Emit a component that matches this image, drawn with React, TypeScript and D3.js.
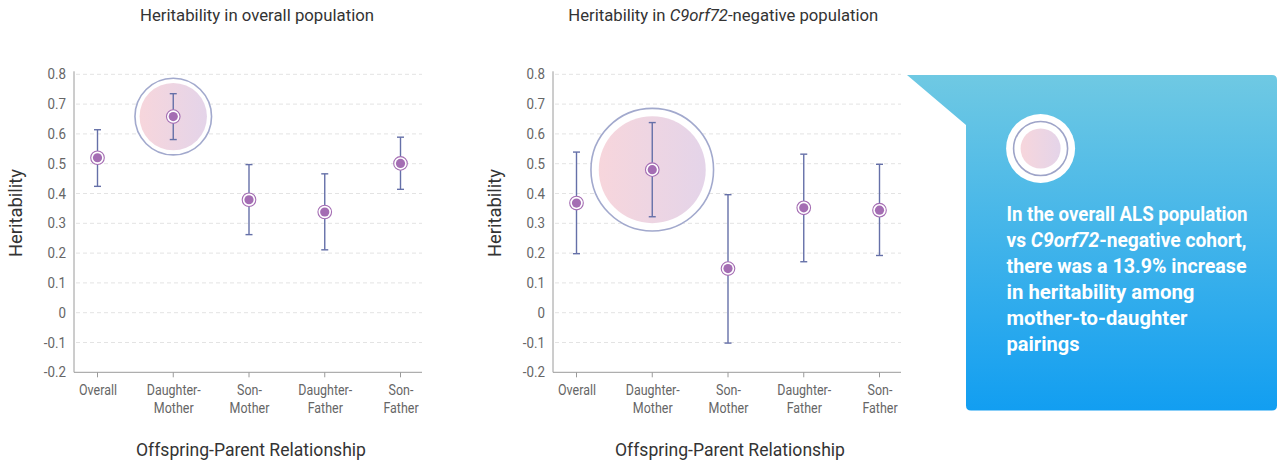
import React from "react";
import * as d3 from "d3";

const categories = ["Overall", "Daughter-Mother", "Son-Mother", "Daughter-Father", "Son-Father"];
const categoryLines = [["Overall"], ["Daughter-", "Mother"], ["Son-", "Mother"], ["Daughter-", "Father"], ["Son-", "Father"]];

const overallValues = [0.52, 0.658, 0.379, 0.338, 0.501];
const overallUpper = [0.614, 0.735, 0.497, 0.466, 0.589];
const overallLower = [0.424, 0.581, 0.262, 0.211, 0.414];

const c9Values = [0.368, 0.48, 0.148, 0.352, 0.344];
const c9Upper = [0.539, 0.638, 0.396, 0.532, 0.498];
const c9Lower = [0.198, 0.322, -0.102, 0.171, 0.192];

const yTicks = [0.8, 0.7, 0.6, 0.5, 0.4, 0.3, 0.2, 0.1, 0, -0.1, -0.2];
const yTickLabels = ["0.8", "0.7", "0.6", "0.5", "0.4", "0.3", "0.2", "0.1", "0", "-0.1", "-0.2"];

const highlightIndex = 1;

const calloutLines = [
  ["In the overall ALS population"],
  ["vs ", "C9orf72", "-negative cohort,"],
  ["there was a 13.9% increase"],
  ["in heritability among"],
  ["mother-to-daughter"],
  ["pairings"],
];
const calloutWidths = [241, 240, 240, 188, 181, 73];

const FONT = "Roboto, 'Noto Sans', sans-serif";

type PanelProps = {
  left: number;
  right: number;
  values: number[];
  upper: number[];
  lower: number[];
  title: React.ReactNode;
  titleX: number;
  titleWidth: number;
  yLabelX: number;
  hiInner: number;
  hiOuter: number;
  gradId: string;
};

function Panel(p: PanelProps) {
  const top = 74.3;
  const bottom = 372.3;
  const y = d3.scaleLinear().domain([-0.2, 0.8]).range([bottom, top]);
  const x = d3.scalePoint<string>().domain(categories).range([p.left + 23.5, p.right - 21.5]);
  const barColor = "#6570a8";
  const sx = 0.86;
  return (
    <g>
      <text x={p.titleX} y={20.5} textAnchor="middle" fontSize={17} fill="#333" fontFamily={FONT}
        textLength={p.titleWidth} lengthAdjust="spacingAndGlyphs">{p.title}</text>
      {yTicks.map((t, i) => (
        <g key={i}>
          {t > -0.2 && (
            <line x1={p.left + 2} x2={p.right} y1={y(t)} y2={y(t)} stroke="#e3e3e3" strokeDasharray="4,3" strokeWidth={1} />
          )}
          <text transform={`translate(${p.left - 8},${y(t) + 5}) scale(0.92,1)`} textAnchor="end" fontSize={14.5} fill="#666" fontFamily={FONT}>{yTickLabels[i]}</text>
        </g>
      ))}
      <line x1={p.left} x2={p.left} y1={top - 3} y2={bottom} stroke="#9a9a9a" strokeWidth={1} />
      <line x1={p.left} x2={p.right} y1={bottom} y2={bottom} stroke="#9a9a9a" strokeWidth={1} />
      {categories.map((c, i) => (
        <g key={c}>
          <line x1={x(c)} x2={x(c)} y1={bottom} y2={bottom + 5} stroke="#9a9a9a" strokeWidth={1} />
          {categoryLines[i].map((ln, j) => (
            <text key={j} transform={`translate(${(x(c) as number) + 0.5},${395 + j * 18}) scale(${sx},1)`} textAnchor="middle"
              fontSize={14.5} fill="#666" fontFamily={FONT}>{ln}</text>
          ))}
        </g>
      ))}
      <text x={(p.left + p.right) / 2 + 3} y={456} textAnchor="middle" fontSize={18.5} fill="#333" fontFamily={FONT}
        textLength={230} lengthAdjust="spacingAndGlyphs">Offspring-Parent Relationship</text>
      <text transform={`translate(${p.yLabelX},213) rotate(-90)`} textAnchor="middle" fontSize={18.5} fill="#333" fontFamily={FONT}
        textLength={88} lengthAdjust="spacingAndGlyphs">Heritability</text>
      <circle cx={x(categories[highlightIndex])} cy={y(p.values[highlightIndex])} r={p.hiOuter} fill="#fff" stroke="#a2a9cd" strokeWidth={1.6} />
      <circle cx={x(categories[highlightIndex])} cy={y(p.values[highlightIndex])} r={p.hiInner} fill={`url(#${p.gradId})`} />
      {categories.map((c, i) => {
        const cx = x(c) as number;
        return (
          <g key={"e" + c}>
            <line x1={cx} x2={cx} y1={y(p.upper[i])} y2={y(p.lower[i])} stroke={barColor} strokeWidth={1.4} />
            <line x1={cx - 3.5} x2={cx + 3.5} y1={y(p.upper[i])} y2={y(p.upper[i])} stroke={barColor} strokeWidth={1.4} />
            <line x1={cx - 3.5} x2={cx + 3.5} y1={y(p.lower[i])} y2={y(p.lower[i])} stroke={barColor} strokeWidth={1.4} />
            <circle cx={cx} cy={y(p.values[i])} r={6.8} fill="#fff" stroke="#a46db3" strokeWidth={1.1} />
            <circle cx={cx} cy={y(p.values[i])} r={4.6} fill="#a46db3" />
          </g>
        );
      })}
    </g>
  );
}

export default function App() {
  const cL = 966, cR = 1277, cT = 75, cB = 410.5, rr = 5, tipX = 907, tipY = 125;
  const calloutPath = `M${tipX},${cT} L${cR - rr},${cT} Q${cR},${cT} ${cR},${cT + rr} L${cR},${cB - rr} Q${cR},${cB} ${cR - rr},${cB} L${cL + rr},${cB} Q${cL},${cB} ${cL},${cB - rr} L${cL},${tipY} Z`;
  return (
    <svg width={1280} height={465} style={{ position: "absolute", left: 0, top: 0 }} fontFamily={FONT}>
      <defs>
        <linearGradient id="hiGradL" x1="0" x2="1" y1="0" y2="0">
          <stop offset="0%" stopColor="#f7d6dc" />
          <stop offset="100%" stopColor="#e4d4e9" />
        </linearGradient>
        <linearGradient id="hiGradR" x1="0" x2="1" y1="0" y2="0">
          <stop offset="0%" stopColor="#f7d6dc" />
          <stop offset="100%" stopColor="#e4d4e9" />
        </linearGradient>
        <linearGradient id="calloutGrad" x1="0" x2="0" y1="0" y2="1">
          <stop offset="0%" stopColor="#6fc9e3" />
          <stop offset="100%" stopColor="#129ef1" />
        </linearGradient>
      </defs>
      <rect width={1280} height={465} fill="#fff" />
      <Panel left={74} right={422} values={overallValues} upper={overallUpper} lower={overallLower}
        title="Heritability in overall population" titleX={257} titleWidth={234} yLabelX={21.5}
        hiInner={33.7} hiOuter={38.3} gradId="hiGradL" />
      <Panel left={553} right={901} values={c9Values} upper={c9Upper} lower={c9Lower}
        title={<>Heritability in <tspan fontStyle="italic">C9orf72</tspan>-negative population</>}
        titleX={723.3} titleWidth={310} yLabelX={500.5}
        hiInner={53.5} hiOuter={61.3} gradId="hiGradR" />
      <path d={calloutPath} fill="url(#calloutGrad)" />
      <circle cx={1040.6} cy={148.5} r={34.5} fill="#fff" />
      <circle cx={1040.6} cy={148.5} r={27} fill="#fff" stroke="#9ea4c8" strokeWidth={1.6} />
      <circle cx={1040.6} cy={148.5} r={20} fill="url(#hiGradL)" />
      {calloutLines.map((ln, i) => (
        <text key={i} x={1006.5} y={221 + i * 26} fontSize={21} fontWeight={700} fill="#fff" fontFamily={FONT}
          textLength={calloutWidths[i]} lengthAdjust="spacingAndGlyphs">
          {ln.length === 1 ? ln[0] : (<>{ln[0]}<tspan fontStyle="italic">{ln[1]}</tspan>{ln[2]}</>)}
        </text>
      ))}
    </svg>
  );
}
